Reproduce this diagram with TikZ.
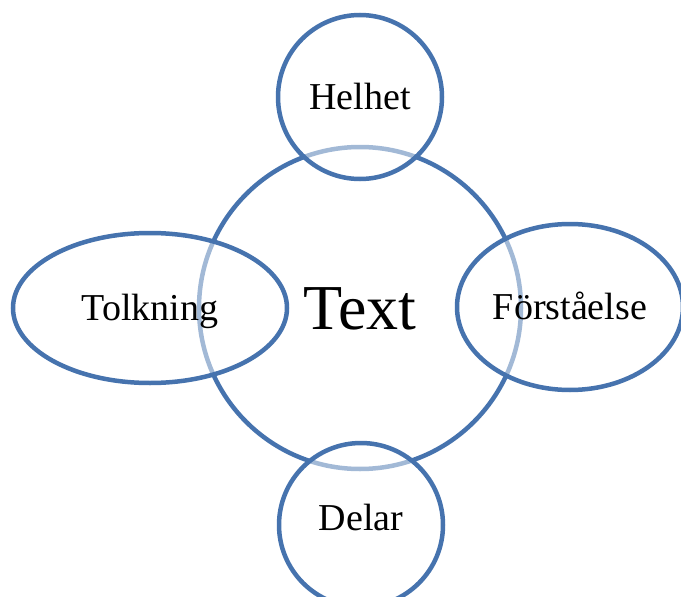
\documentclass[tikz,border=0pt]{standalone}
\usepackage{fontspec}
\setmainfont{Liberation Serif}
\usetikzlibrary{shapes.geometric}
\definecolor{ringblue}{HTML}{4673AE}
\tikzset{
  ring/.style={draw=ringblue, line width=4.5pt, inner sep=0pt},
  labelfont/.style={font=\fontsize{38}{44}\selectfont, text height=25pt, text depth=0pt},
  sat/.style={ring, fill=white, fill opacity=0.5, text opacity=1, labelfont},
}
\begin{document}
\begin{tikzpicture}[x=1pt, y=-1pt]
\useasboundingbox (0,0) rectangle (681,597);
% central circle
\node[ring, circle, minimum size=322pt, font=\fontsize{64}{70}\selectfont, text height=42pt, text depth=0pt] (text) at (360,308) {Text};
% surrounding shapes, half-transparent so the central ring shows through faded
\node[sat, circle, minimum size=164pt] (helhet) at (360,97) {Helhet};
\node[sat, circle, minimum size=164pt, label={[yshift=7pt, labelfont]center:Delar}] (delar) at (361,525) {};
\node[sat, ellipse, minimum width=274pt, minimum height=150pt] (tolkning) at (150,308) {Tolkning};
\node[sat, ellipse, minimum width=226pt, minimum height=166pt] (forst) at (570,307) {Förståelse};
\end{tikzpicture}
\end{document}
